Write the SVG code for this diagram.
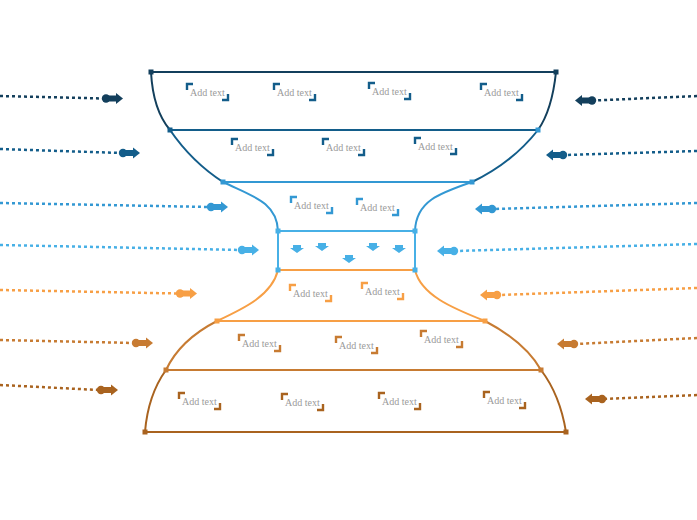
<svg xmlns="http://www.w3.org/2000/svg" xmlns:xlink="http://www.w3.org/1999/xlink" width="697" height="520" viewBox="0 0 697 520">
<style>
.ln{fill:none;stroke-width:2;stroke-linecap:butt}
.br{fill:none;stroke-width:2.4}
.t{font-family:"Liberation Serif","DejaVu Serif",serif;font-size:10px;fill:#9a9a9a}
.dot{fill:none;stroke-width:2.5;stroke-dasharray:3 3}
.c1{stroke:#133f5c}.f1{fill:#133f5c}
.c2{stroke:#135d8a}.f2{fill:#135d8a}
.c3{stroke:#3398d3}.f3{fill:#3398d3}
.c4{stroke:#47b0e6}.f4{fill:#47b0e6}
.c5{stroke:#f79f45}.f5{fill:#f79f45}
.c6{stroke:#c77b32}.f6{fill:#c77b32}
.c7{stroke:#a9631f}.f7{fill:#a9631f}
</style>
<defs>
<g id="ah"><circle cx="0" cy="0" r="4.2"/><rect x="0" y="-3" width="11" height="6"/><path d="M10,-5.5 L17,0 L10,5.5Z"/></g>
<path id="brk" d="M0,6 V0 H6 M41,10 V16 H35"/>
<path id="da" d="M-4,-4 H4 V-1 H7 L0,4 L-7,-1 H-4Z"/>
</defs>

<g id="section1">
<path class="ln c1" d="M151,72 H556"/>
<path class="ln c1" d="M151,72 Q153,110 170,130"/>
<path class="ln c1" d="M556,72 Q552,110 538,130"/>
<rect class="f1" x="148.5" y="69.5" width="5" height="5"/>
<rect class="f1" x="553.5" y="69.5" width="5" height="5"/>
<g transform="translate(187,84)"><use href="#brk" class="br c2"/><text class="t" x="3" y="12">Add text</text></g>
<g transform="translate(274,84)"><use href="#brk" class="br c2"/><text class="t" x="3" y="12">Add text</text></g>
<g transform="translate(369,83)"><use href="#brk" class="br c2"/><text class="t" x="3" y="12">Add text</text></g>
<g transform="translate(481,84)"><use href="#brk" class="br c2"/><text class="t" x="3" y="12">Add text</text></g>
</g>

<g id="section2">
<path class="ln c2" d="M170,130 H538"/>
<path class="ln c2" d="M170,130 Q192,162 223,182"/>
<path class="ln c2" d="M538,130 Q512,163 472,182"/>
<rect class="f2" x="167.5" y="127.5" width="5" height="5"/>
<rect class="f3" x="535.5" y="127.5" width="5" height="5"/>
<g transform="translate(232,139)"><use href="#brk" class="br c2"/><text class="t" x="3" y="12">Add text</text></g>
<g transform="translate(323,139)"><use href="#brk" class="br c2"/><text class="t" x="3" y="12">Add text</text></g>
<g transform="translate(415,138)"><use href="#brk" class="br c2"/><text class="t" x="3" y="12">Add text</text></g>
</g>

<g id="section3">
<path class="ln c3" d="M223,182 H472"/>
<path class="ln c3" d="M223,182 C252,196 277,202 278,231"/>
<path class="ln c3" d="M472,182 C440,193 416,201 415,231"/>
<rect class="f3" x="220.5" y="179.5" width="5" height="5"/>
<rect class="f3" x="469.5" y="179.5" width="5" height="5"/>
<g transform="translate(291,197)"><use href="#brk" class="br c3"/><text class="t" x="3" y="12">Add text</text></g>
<g transform="translate(357,199)"><use href="#brk" class="br c3"/><text class="t" x="3" y="12">Add text</text></g>
</g>

<g id="section4">
<path class="ln c4" d="M278,231 H415"/>
<path class="ln c4" d="M278,231 V270"/>
<path class="ln c4" d="M415,231 V270"/>
<rect class="f4" x="275.5" y="228.5" width="5" height="5"/>
<rect class="f4" x="412.5" y="228.5" width="5" height="5"/>
<use href="#da" class="f4" x="297" y="249"/>
<use href="#da" class="f4" x="322" y="247"/>
<use href="#da" class="f4" x="349" y="259"/>
<use href="#da" class="f4" x="373" y="247"/>
<use href="#da" class="f4" x="399" y="249"/>
</g>

<g id="section5">
<path class="ln c5" d="M278,270 H415"/>
<path class="ln c5" d="M278,270 C272,295 245,308 217,321"/>
<path class="ln c5" d="M415,270 C421,295 452,308 485,321"/>
<rect class="f4" x="275.5" y="267.5" width="5" height="5"/>
<rect class="f4" x="412.5" y="267.5" width="5" height="5"/>
<g transform="translate(290,285)"><use href="#brk" class="br c5"/><text class="t" x="3" y="12">Add text</text></g>
<g transform="translate(362,283)"><use href="#brk" class="br c5"/><text class="t" x="3" y="12">Add text</text></g>
</g>

<g id="section6">
<path class="ln c5" d="M217,321 H485"/>
<path class="ln c6" d="M217,321 Q180,340 166,370"/>
<path class="ln c6" d="M485,321 Q525,342 541,370"/>
<rect class="f5" x="214.5" y="318.5" width="5" height="5"/>
<rect class="f5" x="482.5" y="318.5" width="5" height="5"/>
<g transform="translate(239,335)"><use href="#brk" class="br c6"/><text class="t" x="3" y="12">Add text</text></g>
<g transform="translate(336,337)"><use href="#brk" class="br c6"/><text class="t" x="3" y="12">Add text</text></g>
<g transform="translate(421,331)"><use href="#brk" class="br c6"/><text class="t" x="3" y="12">Add text</text></g>
</g>

<g id="section7">
<path class="ln c6" d="M166,370 H541"/>
<path class="ln c7" d="M166,370 Q148,395 145,432"/>
<path class="ln c7" d="M541,370 Q560,395 566,432"/>
<path class="ln c7" d="M145,432 H566"/>
<rect class="f6" x="163.5" y="367.5" width="5" height="5"/>
<rect class="f6" x="538.5" y="367.5" width="5" height="5"/>
<rect class="f7" x="142.5" y="429.5" width="5" height="5"/>
<rect class="f7" x="563.5" y="429.5" width="5" height="5"/>
<g transform="translate(179,393)"><use href="#brk" class="br c7"/><text class="t" x="3" y="12">Add text</text></g>
<g transform="translate(282,394)"><use href="#brk" class="br c7"/><text class="t" x="3" y="12">Add text</text></g>
<g transform="translate(379,393)"><use href="#brk" class="br c7"/><text class="t" x="3" y="12">Add text</text></g>
<g transform="translate(484,392)"><use href="#brk" class="br c7"/><text class="t" x="3" y="12">Add text</text></g>
</g>

<g id="connectors">
<path class="dot c1" d="M0,96 L104,98.5"/>
<use href="#ah" class="f1" transform="translate(106,98.5)"/>
<path class="dot c2" d="M0,149 L121,153"/>
<use href="#ah" class="f2" transform="translate(123,153)"/>
<path class="dot c3" d="M0,203 L209,207"/>
<use href="#ah" class="f3" transform="translate(211,207)"/>
<path class="dot c4" d="M0,245 L240,250"/>
<use href="#ah" class="f4" transform="translate(242,250)"/>
<path class="dot c5" d="M0,290 L178,293.5"/>
<use href="#ah" class="f5" transform="translate(180,293.5)"/>
<path class="dot c6" d="M0,340 L134,343"/>
<use href="#ah" class="f6" transform="translate(136,343)"/>
<path class="dot c7" d="M0,385 L99,390"/>
<use href="#ah" class="f7" transform="translate(101,390)"/>

<path class="dot c1" d="M697,96 L594,100.5"/>
<use href="#ah" class="f1" transform="translate(592,100.5) scale(-1,1)"/>
<path class="dot c2" d="M697,151 L565,155"/>
<use href="#ah" class="f2" transform="translate(563,155) scale(-1,1)"/>
<path class="dot c3" d="M697,203 L494,209"/>
<use href="#ah" class="f3" transform="translate(492,209) scale(-1,1)"/>
<path class="dot c4" d="M697,244 L456,251"/>
<use href="#ah" class="f4" transform="translate(454,251) scale(-1,1)"/>
<path class="dot c5" d="M697,288 L499,295"/>
<use href="#ah" class="f5" transform="translate(497,295) scale(-1,1)"/>
<path class="dot c6" d="M697,338 L576,344"/>
<use href="#ah" class="f6" transform="translate(574,344) scale(-1,1)"/>
<path class="dot c7" d="M697,395 L604,399"/>
<use href="#ah" class="f7" transform="translate(602,399) scale(-1,1)"/>
</g>
</svg>
